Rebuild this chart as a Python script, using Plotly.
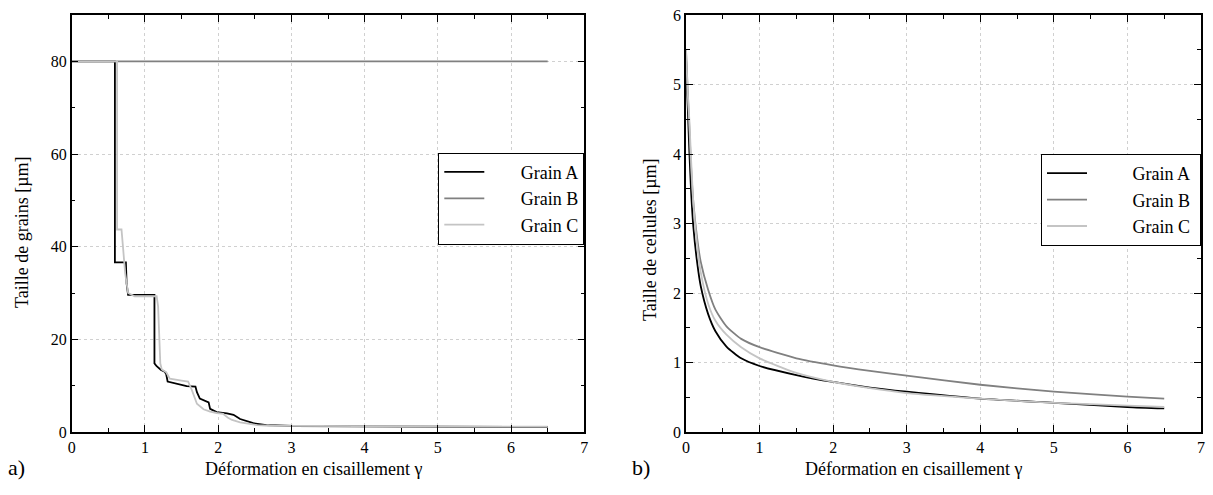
import plotly.graph_objects as go

# ---- Panel a) : grain size vs shear strain ----
a_x = [0, 0.59, 0.59, 0.74, 0.75, 0.76, 0.77, 1.13, 1.13, 1.16, 1.19, 1.22, 1.27, 1.29, 1.31,
       1.45, 1.57, 1.69, 1.71, 1.75, 1.80, 1.87, 1.89, 1.98, 2.12, 2.21, 2.30, 2.39, 2.48,
       2.66, 3.03, 4.0, 5.0, 6.5]
a_y = [80, 80, 36.6, 36.6, 32.0, 30.0, 29.6, 29.6, 14.8, 14.2, 13.8, 13.4, 13.0, 12.5, 10.9,
       10.3, 9.9, 9.8, 8.6, 7.2, 6.8, 6.4, 5.0, 4.3, 4.0, 3.7, 2.8, 2.3, 1.9,
       1.5, 1.3, 1.2, 1.15, 1.1]

b_x = [0, 6.5]
b_y = [80, 80]

c_x = [0, 0.62, 0.62, 0.68, 0.70, 0.73, 0.77, 0.86, 1.16, 1.18, 1.21, 1.23, 1.29, 1.34,
       1.50, 1.57, 1.59, 1.64, 1.71, 1.80, 1.89, 1.98, 2.07, 2.14, 2.19, 2.30, 2.39, 2.53,
       2.70, 3.03, 4.0, 5.0, 6.5]
c_y = [80, 80, 43.7, 43.7, 40.0, 34.3, 30.0, 29.3, 29.3, 27.1, 14.8, 13.5, 12.9, 11.5,
       11.1, 11.0, 10.9, 9.1, 6.1, 4.9, 4.4, 4.1, 3.9, 3.0, 2.6, 2.1, 1.9, 1.5,
       1.35, 1.3, 1.25, 1.2, 1.15]

# ---- Panel b) : cell size vs shear strain ----
cell_x = [0, 0.02, 0.045, 0.07, 0.1, 0.15, 0.2, 0.3, 0.4, 0.55, 0.75, 1.0, 1.5, 2.0, 2.5,
          3.0, 4.0, 5.0, 6.0, 6.5]
cell_a = [5.4, 4.8, 4.05, 3.45, 2.95, 2.45, 2.1, 1.7, 1.45, 1.23, 1.06, 0.95, 0.82, 0.72,
          0.64, 0.58, 0.48, 0.42, 0.36, 0.34]
cell_b = [5.5, 5.0, 4.4, 3.8, 3.3, 2.8, 2.45, 2.05, 1.76, 1.52, 1.34, 1.22, 1.06, 0.96,
          0.88, 0.81, 0.68, 0.58, 0.51, 0.48]
cell_c = [5.5, 4.95, 4.5, 3.9, 3.3, 2.7, 2.3, 1.85, 1.6, 1.4, 1.22, 1.06, 0.85, 0.72,
          0.63, 0.56, 0.48, 0.42, 0.38, 0.36]

names = ["Grain A", "Grain B", "Grain C"]
colors = ["#000000", "#808080", "#c4c4c4"]

x_ticks = [0, 1, 2, 3, 4, 5, 6, 7]

FONT = "Liberation Serif"
NB = "\u00a0"

fig = go.Figure()

for (xs, ys), name, col in zip([(a_x, a_y), (b_x, b_y), (c_x, c_y)], names, colors):
    fig.add_trace(go.Scatter(x=xs, y=ys, mode="lines", name=NB * 7 + name,
                             line=dict(color=col, width=1.8),
                             xaxis="x", yaxis="y", legend="legend"))
for ys, name, col in zip([cell_a, cell_b, cell_c], names, colors):
    fig.add_trace(go.Scatter(x=cell_x, y=ys, mode="lines", name=NB * 9 + name + NB,
                             line=dict(color=col, width=1.8, shape="spline", smoothing=0.6),
                             xaxis="x2", yaxis="y2", legend="legend2"))

W, H = 1213, 495
ydom = [1 - 432 / H, 1 - 15 / H]
axis_common = dict(
    showline=True, linecolor="black", linewidth=1.5, mirror="allticks",
    ticks="inside", ticklen=7, tickwidth=1.2, tickcolor="black",
    showgrid=True, gridcolor="#d0d0d0", griddash="dot", gridwidth=1,
    zeroline=False, automargin=False,
    tickfont=dict(family=FONT, size=16, color="black"),
)
minor_common = dict(ticks="inside", ticklen=4, tickwidth=1.2, tickcolor="black", showgrid=False)

fig.update_layout(
    width=W, height=H,
    margin=dict(l=0, r=0, t=0, b=0),
    paper_bgcolor="white", plot_bgcolor="white",
    font=dict(family=FONT, size=16, color="black"),
    xaxis=dict(domain=[71.7 / W, 584.3 / W], range=[0, 7], tickvals=x_ticks,
               minor=dict(dtick=0.5, **minor_common), anchor="y", **axis_common),
    yaxis=dict(domain=ydom, range=[0, 90], tickvals=[0, 20, 40, 60, 80],
               minor=dict(dtick=10, **minor_common), anchor="x", **axis_common),
    xaxis2=dict(domain=[686 / W, 1201 / W], range=[0, 7], tickvals=x_ticks,
                minor=dict(dtick=0.5, **minor_common), anchor="y2", **axis_common),
    yaxis2=dict(domain=ydom, range=[0, 6], tickvals=[0, 1, 2, 3, 4, 5, 6],
                minor=dict(dtick=0.5, **minor_common), anchor="x2", **axis_common),
    legend=dict(x=584.3 / W, xanchor="right", y=1 - 152.7 / H, yanchor="top",
                bordercolor="black", borderwidth=1, bgcolor="white",
                font=dict(family=FONT, size=18), tracegroupgap=0, itemwidth=40),
    legend2=dict(x=1201 / W, xanchor="right", y=1 - 154 / H, yanchor="top",
                 bordercolor="black", borderwidth=1, bgcolor="white",
                 font=dict(family=FONT, size=18), tracegroupgap=0, itemwidth=40),
    showlegend=True,
)

def label(text, x, y, size=18, angle=0):
    fig.add_annotation(text=text, x=x / W, y=1 - y / H, xref="paper", yref="paper",
                       xanchor="center", yanchor="middle", showarrow=False,
                       textangle=angle, font=dict(family=FONT, size=size, color="black"))

label("Déformation en cisaillement γ", 313, 469)
label("Déformation en cisaillement γ", 913, 469)
label("Taille de grains [µm]", 22, 232, angle=-90)
label("Taille de cellules [µm]", 650, 240, angle=-90)
label("a)", 16, 467, size=22)
label("b)", 641, 467, size=22)

fig.write_html("out.html", config={"displayModeBar": False},
               post_script="document.body.style.margin='0';document.body.style.padding='0';")
